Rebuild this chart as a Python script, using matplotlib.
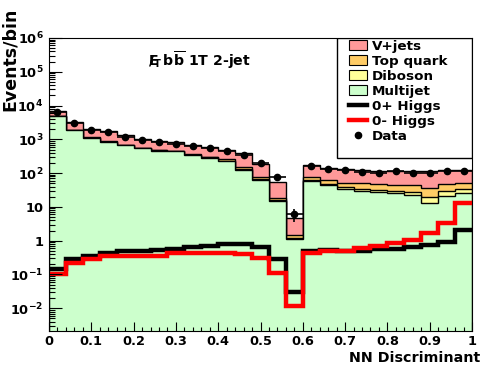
import numpy as np
import matplotlib
matplotlib.use('Agg')
import matplotlib.pyplot as plt
from matplotlib.patches import Rectangle, Patch
from matplotlib.lines import Line2D
from matplotlib.ticker import FixedLocator, NullFormatter, FuncFormatter, MultipleLocator

# 25 bins of NN discriminant, 0..1
edges = np.linspace(0, 1, 26)

multijet = [5000, 1900, 1120, 850, 675, 560, 465, 450, 345, 290, 230, 124, 62,
            14.5, 1.1, 58, 45, 34, 30, 28, 25, 23, 13, 21, 25]
diboson = [10, 6, 5, 5, 4, 4, 4, 4, 4, 4, 5, 5, 3, 1.0, 0.1, 3, 4, 4, 3, 4, 5, 4, 7, 9, 8]
topquark = [30, 15, 12, 12, 10, 10, 10, 10, 10, 14, 22, 19, 11, 3.5, 0.3, 14, 14, 14,
            17, 16, 16, 17, 16, 18, 17]
vjets = [1900, 1280, 890, 950, 630, 446, 411, 351, 311, 280, 243, 242, 107, 37, 3.3,
         95, 82, 80, 72, 66, 70, 72, 78, 74, 74]
data = [6500, 3000, 1900, 1650, 1180, 955, 830, 740, 630, 560, 460, 355, 204, 79, 6,
        163, 133, 122, 109, 101, 116, 104, 101, 116, 119]
higgs_plus = [0.144, 0.29, 0.36, 0.44, 0.48, 0.50, 0.52, 0.57, 0.64, 0.68, 0.79, 0.79,
              0.64, 0.28, 0.030, 0.51, 0.53, 0.50, 0.51, 0.56, 0.58, 0.66, 0.74, 0.91, 2.04]
higgs_minus = [0.10, 0.22, 0.28, 0.36, 0.36, 0.36, 0.36, 0.43, 0.43, 0.43, 0.43, 0.41,
               0.30, 0.11, 0.0115, 0.44, 0.48, 0.51, 0.60, 0.70, 0.88, 1.05, 1.74, 3.3, 12.9]

names = ['Multijet', 'Diboson', 'Top quark', 'V+jets']
colors = ['#ccffcc', '#ffff99', '#ffcc66', '#ff9999']

plt.rcParams['font.family'] = 'DejaVu Sans'
plt.rcParams['font.weight'] = 'bold'
plt.rcParams['mathtext.fontset'] = 'dejavusans'
plt.rcParams['mathtext.default'] = 'bf'

fig = plt.figure(figsize=(4.96, 3.72), dpi=100)
ax = fig.add_axes([49/496, 41.5/372, 423/496, 292.5/372])

# stacked histogram, cumulative from bottom
cum = np.cumsum([multijet, diboson, topquark, vjets], axis=0)
for vals, col in reversed(list(zip(cum, colors))):
    ax.stairs(vals, edges, baseline=1e-5, fill=True, facecolor=col,
              edgecolor='black', lw=1.0)

ax.stairs(higgs_plus, edges, baseline=None, color='black', lw=3.2)
ax.stairs(higgs_minus, edges, baseline=None, color='red', lw=3.2)

centers = 0.5 * (edges[:-1] + edges[1:])
d = np.array(data, dtype=float)
ax.errorbar(centers, d, xerr=0.02, yerr=np.sqrt(d), fmt='o', color='black',
            ms=4.5, lw=1.2, capsize=0, zorder=4)

ax.set_yscale('log')
ax.set_xlim(0, 1)
ax.set_ylim(2.2e-3, 1e6)

def ylab(v, pos):
    e = int(round(np.log10(v)))
    if e == 0:
        return '1'
    if e == 1:
        return '10'
    return r'$10^{%d}$' % e

decades = [10.0 ** e for e in range(-2, 7)]
minors = [m * 10.0 ** e for e in range(-3, 6) for m in range(2, 10) if m * 10.0 ** e >= 2.2e-3]
ax.yaxis.set_major_locator(FixedLocator(decades))
ax.yaxis.set_minor_locator(FixedLocator(minors))
ax.yaxis.set_major_formatter(FuncFormatter(ylab))
ax.yaxis.set_minor_formatter(NullFormatter())
ax.xaxis.set_major_locator(MultipleLocator(0.1))
ax.xaxis.set_minor_locator(MultipleLocator(0.02))
ax.xaxis.set_major_formatter(FuncFormatter(lambda v, p: '%g' % round(v, 2)))

ax.tick_params(which='both', direction='in', top=False, right=False, labelsize=9.3, width=0.8)
ax.tick_params(axis='y', which='major', length=9, pad=4)
ax.tick_params(axis='y', which='minor', length=4.5)
ax.tick_params(axis='x', which='major', length=6.5, pad=3)
ax.tick_params(axis='x', which='minor', length=3.2)
for s in ax.spines.values():
    s.set_linewidth(0.8)

# legend box
ax.add_patch(Rectangle((0.681, 0.590), 0.319, 0.41, transform=ax.transAxes,
                       facecolor='white', edgecolor='black', lw=1.0, zorder=5))
handles = [Patch(facecolor=colors[3], edgecolor='black', lw=0.8),
           Patch(facecolor=colors[2], edgecolor='black', lw=0.8),
           Patch(facecolor=colors[1], edgecolor='black', lw=0.8),
           Patch(facecolor=colors[0], edgecolor='black', lw=0.8),
           Line2D([0], [0], color='black', lw=3.2),
           Line2D([0], [0], color='red', lw=3.2),
           Line2D([0], [0], color='black', marker='o', ms=4.5, ls='none')]
labels = ['V+jets', 'Top quark', 'Diboson', 'Multijet', '0+ Higgs', '0- Higgs', 'Data']
leg = ax.legend(handles, labels, loc='upper left', bbox_to_anchor=(0.709, 0.993),
                frameon=False, fontsize=9.7, handlelength=1.35, handleheight=0.75,
                handletextpad=0.35, labelspacing=0.15, borderpad=0, borderaxespad=0)
leg.set_zorder(6)

ax.text(0.234, 0.903, r'$E\!\!\!\!/_{T}\,b\overline{b}$ 1T 2-jet', transform=ax.transAxes,
        fontsize=10.2, ha='left', va='baseline', zorder=6)

fig.text(10/496, 1 - 8/372, 'Events/bin', rotation=90, ha='center', va='top', fontsize=12.5)
fig.text(480/496, 1 - 362/372, 'NN Discriminant', ha='right', va='baseline', fontsize=10.3)

fig.savefig('out.png', dpi=100)
